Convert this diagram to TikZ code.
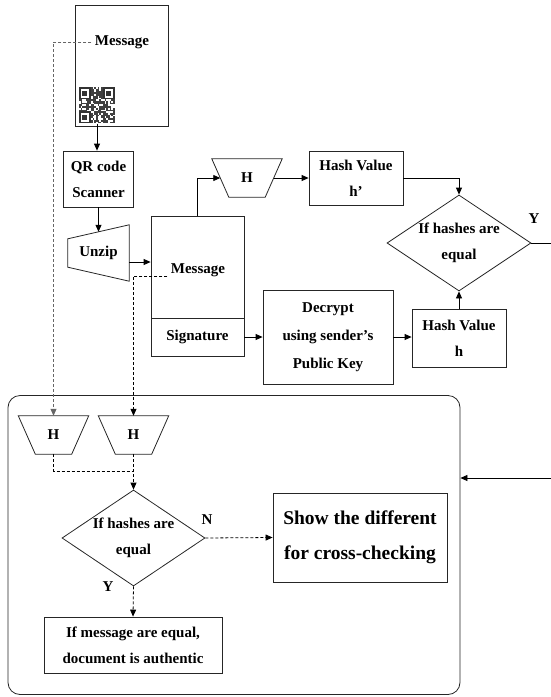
\documentclass[tikz,border=0pt]{standalone}
\usepackage{fontspec}
\setmainfont{Liberation Serif}
\usetikzlibrary{arrows.meta,shapes.geometric}

\newcommand\trapH[1]{\draw[edge] (#1.north west) -- (#1.north east)
  -- coordinate[pos=.5] (#1out) ([xshift=-17pt]#1.south east)
  -- ([xshift=17pt]#1.south west) -- coordinate[pos=.5] (#1in) cycle;}

\begin{document}
\begin{tikzpicture}[x=1pt,y=-1pt,
  font=\bfseries\fontsize{15}{26}\selectfont,
  edge/.style={draw=black!85,line width=0.8pt},
  box/.style={edge,align=center,inner sep=0pt},
  hnode/.style={minimum width=70pt,minimum height=38pt,inner sep=0pt},
  dia/.style={edge,diamond,aspect=1.5,minimum width=144pt,minimum height=96pt,inner sep=0pt,align=center},
  arr/.style={-{Triangle[length=7pt,width=6pt]},line width=0.8pt},
  darr/.style={arr,dash pattern=on 3pt off 2pt},
  dline/.style={line width=0.8pt,dash pattern=on 3pt off 2pt}
]
\useasboundingbox (0,0) rectangle (551,697);

\node[box,minimum width=93pt,minimum height=121pt] (doc) at (121.5,65.5) {};
\node (msgtop) at (122,42) {Message};
\node[inner sep=0pt,minimum size=36pt] (qr) at (97,105.5) {};
\begin{scope}[shift={(qr.north west)}]
  \pgfmathsetseed{7}
  \foreach \i in {0,...,20}{
    \foreach \j in {0,...,20}{
      \pgfmathrandominteger{\q}{0}{2}
      \ifnum\q>0 \fill[black!75] (\i*1.714,\j*1.714) rectangle ++(1.714,1.714);\fi
    }
  }
  \foreach \a/\b in {0/0,14/0,0/14}{
    \fill[black!80] (\a*1.714,\b*1.714) rectangle ++(12,12);
    \fill[white] (\a*1.714+1.714,\b*1.714+1.714) rectangle ++(8.57,8.57);
    \fill[black!80] (\a*1.714+3.43,\b*1.714+3.43) rectangle ++(5.14,5.14);
  }
\end{scope}

\node[box,minimum width=70pt,minimum height=56pt] (scan) at (98.5,179) {QR code\\Scanner};
\node[minimum width=61pt,minimum height=56pt,inner sep=0pt] (unzip) at (98.5,253) {Unzip};
\draw[edge] ([yshift=-14pt]unzip.north west) -- coordinate[pos=.5] (uzin) (unzip.north east)
  -- (unzip.south east) -- ([yshift=14pt]unzip.south west) -- cycle;
\node[box,minimum width=93pt,minimum height=102pt] (msgbox) at (197.5,267) {};
\node (msgmid) at (198,270) {Message};
\node[box,minimum width=93pt,minimum height=38pt] (sig) at (197.5,337) {Signature};
\node[hnode] (htop) at (247,178) {H};
\trapH{htop}
\node[box,minimum width=94pt,minimum height=54pt] (hp) at (356,178) {Hash Value\\h’};
\node[dia] (cmpA) at (459,243) {If hashes are\\equal};
\node[box,minimum width=130pt,minimum height=94pt,font=\bfseries\fontsize{15}{28}\selectfont] (dec) at (328,337) {Decrypt\\using sender’s\\Public Key};
\node[box,minimum width=94pt,minimum height=58pt] (hh) at (459,338) {Hash Value\\h};
\node (lblYA) at (534,219) {Y};
\coordinate (outY) at (551,243);

\node[edge,rounded corners=12pt,minimum width=452pt,minimum height=299pt] (verify) at (234,545) {};
\coordinate (inV) at (551,478);
\node[hnode] (hl) at (53.5,435) {H};
\trapH{hl}
\node[hnode] (hr) at (133.5,435) {H};
\trapH{hr}
\coordinate (join) at (133.5,471);
\node[dia,minimum width=143pt] (cmpB) at (133.5,538) {If hashes are\\equal};
\node (lblN) at (207,520) {N};
\node (lblYB) at (108,587) {Y};
\node[box,minimum width=174pt,minimum height=89pt,font=\bfseries\fontsize{19.5}{35}\selectfont] (show) at (360,537.5) {Show the different\\for cross-checking};
\node[box,minimum width=178pt,minimum height=56pt] (fin) at (133,645) {If message are equal,\\document is authentic};

\draw[arr] (qr.south) -- (qr.south |- scan.north);
\draw[arr] (scan.south) -- (uzin);
\draw[arr] ([yshift=-9pt]unzip.east) -- ([yshift=-9pt]unzip.east -| msgbox.west);
\draw[arr] (msgbox.north) |- (htopin);
\draw[arr] (htopout) -- (hp.west);
\draw[arr] (hp.east) -| (cmpA.north);
\draw[arr] (sig.east) -- (sig.east -| dec.west);
\draw[arr] (dec.east) -- (dec.east -| hh.west);
\draw[arr] (hh.north) -- (cmpA.south);
\draw[line width=0.8pt] (cmpA.east) -- (outY);
\draw[arr] (inV) -- (inV -| verify.east);

\draw[darr,black!60] (msgtop.west) -| (hl.north);
\draw[darr] ([yshift=-6pt]msgmid.west) -| (hr.north);
\draw[dline] (hl.south) |- (join);
\draw[darr] (hr.south) -- (cmpB.north);
\draw[darr] (cmpB.east) -- (show.west);
\draw[darr] (cmpB.south) -- (fin.north);
\end{tikzpicture}
\end{document}
